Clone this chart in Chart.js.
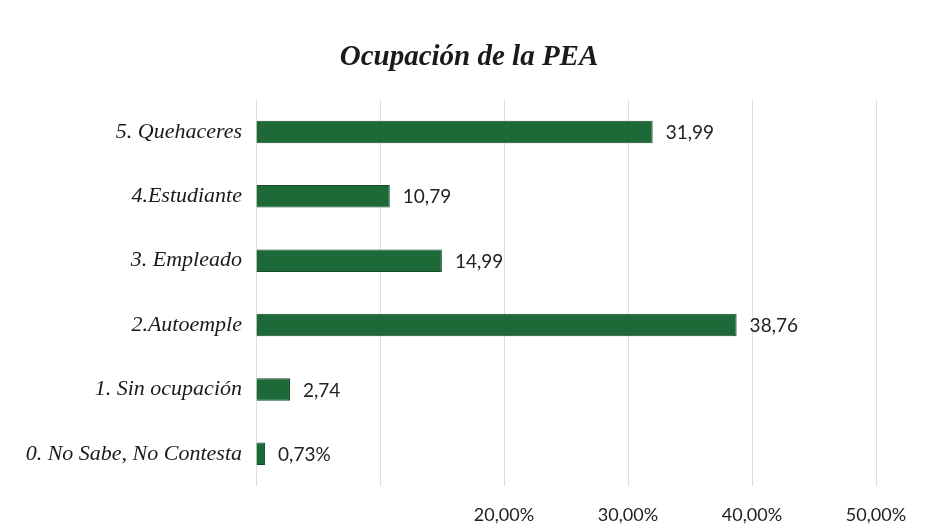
<!DOCTYPE html>
<html lang="es">
<head>
  <meta charset="UTF-8">
  <title>Ocupación de la PEA</title>
  <script src="https://cdn.jsdelivr.net/npm/chart.js@4.4.1/dist/chart.umd.min.js"></script>
  <style>
    body { margin: 0; background: #fff; }
  </style>
</head>
<body>
  <canvas id="myChart" width="951" height="530"></canvas>

  <script>
    // datos del gráfico (de arriba hacia abajo)
    const categorias = ['5. Quehaceres', '4.Estudiante', '3. Empleado', '2.Autoemple', '1. Sin ocupación', '0. No Sabe, No Contesta'];
    const porcentajes = [31.99, 10.79, 14.99, 38.76, 2.74, 0.73];
    const etiquetas = ['31,99', '10,79', '14,99', '38,76', '2,74', '0,73%'];
    const ticksX = [0, 10, 20, 30, 40, 50];
    const ticksVisibles = ['', '', '20,00%', '30,00%', '40,00%', '50,00%'];

    // etiquetas de valor al final de cada barra
    const etiquetasPlugin = {
      id: 'etiquetas',
      afterDatasetsDraw(chart) {
        const ctx = chart.ctx;
        const meta = chart.getDatasetMeta(0);
        ctx.save();
        ctx.font = '19px Lato';
        ctx.fillStyle = '#222';
        ctx.textAlign = 'left';
        ctx.textBaseline = 'middle';
        meta.data.forEach((bar, i) => {
          ctx.fillText(etiquetas[i], bar.x + 13, bar.y + 1);
        });
        ctx.restore();
      }
    };

    const ctx = document.getElementById('myChart').getContext('2d');
    new Chart(ctx, {
      type: 'bar',
      data: {
        labels: categorias,
        datasets: [{
          data: porcentajes,
          backgroundColor: '#1d6a38',
          borderColor: '#144d28',
          borderWidth: 1,
          categoryPercentage: 1,
          barPercentage: 0.35
        }]
      },
      options: {
        indexAxis: 'y',
        responsive: false,
        animation: false,
        layout: { padding: { left: 0, right: 13, bottom: 4, top: 0 } },
        plugins: {
          legend: { display: false },
          tooltip: { enabled: false },
          title: {
            display: true,
            text: 'Ocupación de la PEA',
            color: '#1a1a1a',
            font: { family: 'Liberation Serif', size: 29, style: 'italic', weight: 'bold' },
            padding: { top: 40, bottom: 25 }
          }
        },
        scales: {
          x: {
            min: 0,
            max: 55,
            afterBuildTicks(scale) {
              scale.ticks = ticksX.map(v => ({ value: v }));
            },
            afterFit(scale) { scale.height = 40; },
            grid: { color: '#dedede', drawTicks: false },
            border: { display: false },
            ticks: {
              padding: 18,
              color: '#222',
              font: { family: 'Lato', size: 18 },
              callback: (v, i) => ticksVisibles[i]
            }
          },
          y: {
            afterFit(scale) { scale.width = 256; },
            grid: { display: false },
            border: { display: false },
            ticks: {
              padding: 6,
              color: '#1a1a1a',
              font: { family: 'Liberation Serif', size: 22, style: 'italic' }
            }
          }
        }
      },
      plugins: [etiquetasPlugin]
    });
  </script>
</body>
</html>
